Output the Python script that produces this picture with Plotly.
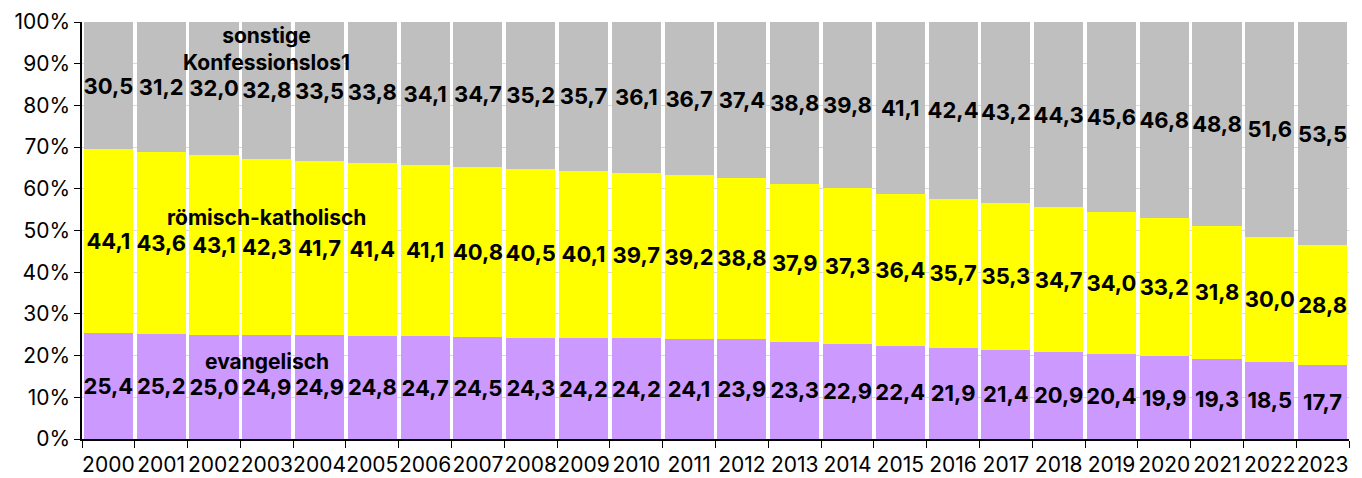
import plotly.graph_objects as go

# ---------------- DATA ----------------
years = [str(y) for y in range(2000, 2024)]

evangelisch = [25.4, 25.2, 25.0, 24.9, 24.9, 24.8, 24.7, 24.5, 24.3, 24.2, 24.2, 24.1,
               23.9, 23.3, 22.9, 22.4, 21.9, 21.4, 20.9, 20.4, 19.9, 19.3, 18.5, 17.7]
katholisch = [44.1, 43.6, 43.1, 42.3, 41.7, 41.4, 41.1, 40.8, 40.5, 40.1, 39.7, 39.2,
              38.8, 37.9, 37.3, 36.4, 35.7, 35.3, 34.7, 34.0, 33.2, 31.8, 30.0, 28.8]
sonstige = [30.5, 31.2, 32.0, 32.8, 33.5, 33.8, 34.1, 34.7, 35.2, 35.7, 36.1, 36.7,
            37.4, 38.8, 39.8, 41.1, 42.4, 43.2, 44.3, 45.6, 46.8, 48.8, 51.6, 53.5]

series = [
    ("evangelisch", evangelisch, "#CC99FF"),
    ("römisch-katholisch", katholisch, "#FFFF00"),
    ("sonstige Konfessionslos1", sonstige, "#BFBFBF"),
]

FONT = "Inter"


def de(v):
    return f"{v:.1f}".replace(".", ",")


fig = go.Figure()

for name, vals, color in series:
    fig.add_trace(go.Bar(
        x=years,
        y=vals,
        name=name,
        marker=dict(color=color, line=dict(width=0)),
        text=[de(v) for v in vals],
        textposition="inside",
        insidetextanchor="middle",
        constraintext="none",
        textangle=0,
        textfont=dict(family=FONT, size=22, color="black", weight="bold"),
    ))

# series names written into the chart (placed over the 2003 column)
label_x = years.index("2003")
labels = [
    ("sonstige<br>Konfessionslos1", 93.6),
    ("römisch-katholisch", 53.2),
    ("evangelisch", 18.5),
]
for txt, yy in labels:
    fig.add_annotation(
        x=label_x, y=yy, text=txt, showarrow=False,
        font=dict(family=FONT, size=21, color="black", weight="bold"),
    )

# page body adds ~8px offset, so margins are trimmed accordingly
fig.update_layout(
    width=1362, height=478,
    barmode="stack",
    bargap=0.07,
    showlegend=False,
    plot_bgcolor="white",
    paper_bgcolor="white",
    margin=dict(l=74, r=21, t=14, b=47),
    font=dict(family=FONT, size=21, color="black"),
)

fig.update_xaxes(
    type="category",
    range=[-0.5, len(years) - 0.5],
    tickangle=0,
    automargin=False,
    showline=True, linecolor="black", linewidth=1.5,
    ticks="outside", ticklen=7, tickcolor="black",
    tickson="boundaries",
    ticklabelstandoff=6,
    tickfont=dict(family=FONT, size=21),
)
fig.update_yaxes(
    range=[0, 100], dtick=10, ticksuffix="%",
    automargin=False,
    showline=True, linecolor="black", linewidth=1.5,
    ticks="outside", ticklen=6, tickcolor="black",
    gridcolor="#D9D9D9", gridwidth=1,
    tickfont=dict(family=FONT, size=21),
)

fig.write_html("out.html")
